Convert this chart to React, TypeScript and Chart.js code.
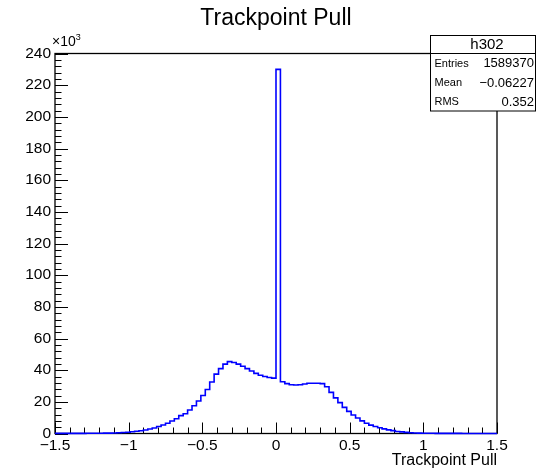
import React, { useEffect, useRef } from 'react';
import { Chart, registerables } from 'chart.js';

Chart.register(...registerables);

// Histogram: 100 bins of width 0.03 from -1.5 to 1.5, contents in thousands (×10³)
const BIN_START = -1.5;
const BIN_WIDTH = 0.03;
const binCounts = [
  0.05, 0.05, 0.05, 0.06, 0.07, 0.08, 0.1, 0.12, 0.14, 0.17,
  0.2, 0.22, 0.26, 0.35, 0.45, 0.6, 0.8, 1.1, 1.4, 1.7,
  2.2, 2.8, 3.5, 4.4, 5.4, 6.5, 7.9, 9.3, 11.3, 12.5,
  14.8, 17.5, 20.5, 24.0, 27.8, 32.5, 37.5, 41.0, 43.8, 45.4,
  44.8, 43.8, 42.5, 41.0, 39.5, 38.0, 36.8, 36.0, 35.4, 35.0,
  230.0, 32.7, 31.5, 30.8, 30.6, 30.8, 31.3, 31.7, 31.7, 31.7,
  31.5, 29.5, 26.0, 22.5, 19.5, 16.5, 14.0, 11.7, 9.8, 8.0,
  6.5, 5.3, 4.4, 3.6, 2.9, 2.3, 1.8, 1.3, 1.0, 0.7,
  0.5, 0.35, 0.25, 0.2, 0.15, 0.12, 0.1, 0.08, 0.07, 0.06,
  0.05, 0.05, 0.04, 0.04, 0.03, 0.03, 0.03, 0.02, 0.02, 0.02,
];

const xTickValues = [-1.5, -1, -0.5, 0, 0.5, 1, 1.5];
const xTickLabels = ['\u22121.5', '\u22121', '\u22120.5', '0', '0.5', '1', '1.5'];
const yTickValues = [0, 20, 40, 60, 80, 100, 120, 140, 160, 180, 200, 220, 240];
const yTickLabels = ['0', '20', '40', '60', '80', '100', '120', '140', '160', '180', '200', '220', '240'];
const xMinorTicks = [-1.5, -1.4, -1.3, -1.2, -1.1, -1, -0.9, -0.8, -0.7, -0.6, -0.5, -0.4, -0.3, -0.2, -0.1, 0, 0.1, 0.2, 0.3, 0.4, 0.5, 0.6, 0.7, 0.8, 0.9, 1, 1.1, 1.2, 1.3, 1.4, 1.5];
const yMinorStep = 4;

const chartTitle = 'Trackpoint Pull';
const xAxisTitle = 'Trackpoint Pull';
const histName = 'h302';
const statsLabels = ['Entries', 'Mean', 'RMS'];
const statsValues = ['1589370', '\u22120.06227', '0.352'];

const FONT = "'Liberation Sans', Arial, Helvetica, sans-serif";

const rootFrame = {
  id: 'rootFrame',
  beforeDatasetsDraw(chart: any) {
    const { ctx, chartArea: a, scales } = chart;
    const xs = scales.x;
    const ys = scales.y;
    ctx.save();
    ctx.strokeStyle = '#000';
    ctx.lineWidth = 1;
    ctx.beginPath();
    for (const v of xMinorTicks) {
      const px = Math.round(xs.getPixelForValue(v)) + 0.5;
      const major = xTickValues.some((t) => Math.abs(t - v) < 1e-9);
      const len = major ? 11 : 6;
      ctx.moveTo(px, a.bottom);
      ctx.lineTo(px, a.bottom - len);
    }
    for (let v = 0; v <= 240 + 1e-9; v += yMinorStep) {
      const py = Math.round(ys.getPixelForValue(v)) + 0.5;
      const major = yTickValues.includes(v);
      const len = major ? 13 : 6.5;
      ctx.moveTo(a.left, py);
      ctx.lineTo(a.left + len, py);
    }
    ctx.stroke();
    ctx.lineWidth = 1.3;
    ctx.strokeRect(a.left, a.top, a.right - a.left, a.bottom - a.top);
    ctx.restore();
  },
  afterDraw(chart: any) {
    const { ctx, chartArea: a } = chart;
    ctx.save();
    ctx.fillStyle = '#000';
    // main title, centred over the frame
    ctx.textAlign = 'center';
    ctx.textBaseline = 'middle';
    ctx.font = `23px ${FONT}`;
    ctx.fillText(chartTitle, (a.left + a.right) / 2, 19);

    // ×10³ multiplier
    ctx.textBaseline = 'alphabetic';
    ctx.textAlign = 'left';
    ctx.font = `14px ${FONT}`;
    ctx.fillText('\u00d710', a.left - 3, a.top - 8);
    const w = ctx.measureText('\u00d710').width;
    ctx.font = `9px ${FONT}`;
    ctx.fillText('3', a.left - 3 + w, a.top - 14);

    // stats box
    const bx = 430.5, by = 35.5, bw = 105, bh = 75.5;
    ctx.fillStyle = '#fff';
    ctx.fillRect(bx, by, bw, bh);
    ctx.strokeStyle = '#000';
    ctx.lineWidth = 1;
    ctx.strokeRect(bx, by, bw, bh);
    ctx.beginPath();
    ctx.moveTo(bx, 53.5);
    ctx.lineTo(bx + bw, 53.5);
    ctx.stroke();
    ctx.fillStyle = '#000';
    ctx.textBaseline = 'middle';
    ctx.textAlign = 'center';
    ctx.font = `15px ${FONT}`;
    ctx.fillText(histName, 487, 44.5);
    const rowY = [63.5, 83, 102];
    statsLabels.forEach((lab, i) => {
      ctx.textAlign = 'left';
      ctx.font = `11px ${FONT}`;
      ctx.fillText(lab, bx + 4, rowY[i]);
      ctx.textAlign = 'right';
      ctx.font = `13px ${FONT}`;
      ctx.fillText(statsValues[i], 534, rowY[i]);
    });
    ctx.restore();
  },
};

export default function App() {
  const canvasRef = useRef<HTMLCanvasElement | null>(null);

  useEffect(() => {
    const canvas = canvasRef.current;
    if (!canvas) return;
    const points = binCounts.map((v, i) => ({ x: BIN_START + i * BIN_WIDTH, y: v }));
    points.push({ x: BIN_START + binCounts.length * BIN_WIDTH, y: binCounts[binCounts.length - 1] });

    const chart = new Chart(canvas, {
      type: 'line',
      data: {
        datasets: [
          {
            label: histName,
            data: points,
            stepped: 'before',
            borderColor: '#0000ff',
            borderWidth: 1.6,
            pointRadius: 0,
            fill: false,
            clip: 3,
          } as any,
        ],
      },
      options: {
        animation: false,
        responsive: false,
        devicePixelRatio: 1,
        layout: { padding: { top: 53.5, right: 39, bottom: 0, left: 0 } },
        plugins: {
          legend: { display: false },
          tooltip: { enabled: false },
          title: { display: false },
        },
        scales: {
          x: {
            type: 'linear',
            min: -1.5,
            max: 1.5,
            grid: { display: false, drawTicks: false },
            border: { display: false },
            ticks: {
              stepSize: 0.5,
              autoSkip: false,
              maxRotation: 0,
              padding: 2.5,
              color: '#000',
              font: { family: FONT, size: 15.5 },
              callback: (v: any) => {
                const i = xTickValues.findIndex((t) => Math.abs(t - Number(v)) < 1e-9);
                return i >= 0 ? xTickLabels[i] : '';
              },
            },
            title: {
              display: true,
              text: xAxisTitle,
              align: 'end',
              color: '#000',
              font: { family: FONT, size: 16 },
              padding: { top: 0, bottom: -1 },
            },
            afterFit: (s: any) => {
              s.height = 35.5;
            },
          },
          y: {
            type: 'linear',
            min: 0,
            max: 240,
            grid: { display: false, drawTicks: false },
            border: { display: false },
            ticks: {
              stepSize: 20,
              padding: 4,
              color: '#000',
              font: { family: FONT, size: 15.5 },
              callback: (v: any) => {
                const i = yTickValues.indexOf(Number(v));
                return i >= 0 ? yTickLabels[i] : '';
              },
            },
            afterFit: (s: any) => {
              s.width = 55;
            },
          },
        },
      },
      plugins: [rootFrame],
    } as any);

    return () => chart.destroy();
  }, []);

  return (
    <div style={{ position: 'fixed', left: 0, top: 0, width: 536, height: 469, background: '#fff' }}>
      <canvas ref={canvasRef} width={536} height={469} style={{ display: 'block' }} />
    </div>
  );
}
